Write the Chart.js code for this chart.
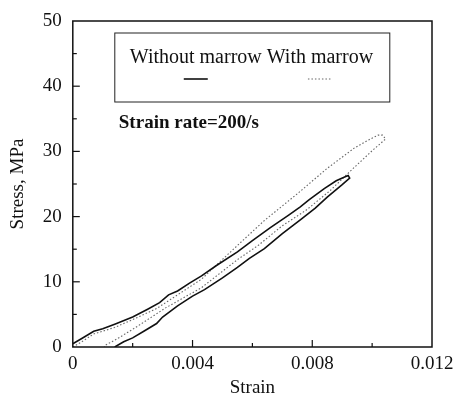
<!DOCTYPE html>
<html>
<head>
<meta charset="utf-8">
<script src="https://cdn.jsdelivr.net/npm/chart.js@4.4.0/dist/chart.umd.min.js"></script>
<style>
  html, body { margin: 0; padding: 0; background: #fff; }
  #wrap { width: 457px; height: 396px; }
</style>
</head>
<body>
<div id="wrap"><canvas id="mychart"></canvas></div>
<script>
// series labels
const seriesNames = ['Without marrow', 'With marrow'];
const note = 'Strain rate=200/s';

// without marrow loop (strain, stress in MPa)
const woStrain = [0, 0.0003, 0.0007, 0.001, 0.0014, 0.002, 0.0025, 0.0029, 0.0032, 0.0035, 0.0039, 0.0043, 0.0048, 0.0055, 0.006, 0.0066, 0.0072, 0.0076, 0.0079, 0.0084, 0.0088, 0.0091, 0.0092,
                  0.00925, 0.009, 0.0085, 0.0081, 0.0076, 0.007, 0.0064, 0.0059, 0.0055, 0.005, 0.0044, 0.004, 0.0035, 0.003, 0.0028, 0.0024, 0.002, 0.0017, 0.0014];
const woStress = [0.5, 1.3, 2.4, 2.8, 3.5, 4.6, 5.8, 6.8, 8.0, 8.6, 9.8, 10.9, 12.5, 14.6, 16.3, 18.3, 20.2, 21.5, 22.6, 24.3, 25.5, 26.1, 26.3,
                  25.9, 24.9, 23.0, 21.3, 19.5, 17.4, 15.1, 13.6, 12.2, 10.6, 8.8, 7.8, 6.3, 4.6, 3.6, 2.5, 1.4, 0.8, 0];

// with marrow loop
const wStrain = [0, 0.0003, 0.0007, 0.0014, 0.002, 0.0028, 0.0035, 0.0043, 0.0049, 0.0056, 0.0064, 0.0075, 0.0085, 0.0094, 0.0099, 0.0102, 0.01035,
                 0.01045, 0.01, 0.0093, 0.0086, 0.0078, 0.007, 0.0062, 0.0055, 0.0043, 0.0031, 0.0021, 0.0015, 0.0011, 0.00105];
const wStress = [0, 0.8, 2.0, 3.0, 4.2, 5.9, 8.0, 10.4, 13.0, 16.0, 19.4, 23.5, 27.4, 30.5, 31.8, 32.5, 32.5,
                 31.9, 30.1, 27.1, 24.0, 21.0, 18.6, 15.6, 13.4, 9.1, 6.0, 3.0, 1.3, 0.3, 0];

// axis tick labels
const xTickLabels = ['0', '0.004', '0.008', '0.012'];
const yTickLabels = ['0', '10', '20', '30', '40', '50'];

function pts(xs, ys) {
  return xs.map(function(x, i){ return {x: x, y: ys[i]}; });
}

const serif = "'Liberation Serif', 'DejaVu Serif', serif";

// box, inward ticks, legend and note
const framePlugin = {
  id: 'frame',
  afterDatasetsDraw: function(chart) {
    const ctx = chart.ctx;
    const a = chart.chartArea;
    const xs = chart.scales.x, ys = chart.scales.y;
    ctx.save();
    ctx.strokeStyle = '#111';
    ctx.lineWidth = 1.5;
    ctx.strokeRect(a.left, a.top, a.right - a.left, a.bottom - a.top);

    ctx.lineWidth = 1.2;
    ys.ticks.forEach(function(t){
      const p = ys.getPixelForValue(t.value);
      const len = (Math.round(t.value) % 10 === 0) ? 7 : 4;
      if (t.value <= 0 || t.value >= 50) return;
      ctx.beginPath(); ctx.moveTo(a.left, p); ctx.lineTo(a.left + len, p); ctx.stroke();
    });
    xs.ticks.forEach(function(t){
      const p = xs.getPixelForValue(t.value);
      const r = t.value / 0.004;
      const len = Math.abs(r - Math.round(r)) < 1e-6 ? 7 : 4;
      if (t.value <= 0 || t.value >= 0.012 - 1e-9) return;
      ctx.beginPath(); ctx.moveTo(p, a.bottom); ctx.lineTo(p, a.bottom - len); ctx.stroke();
    });

    // legend
    const lx = a.left + 42, ly = a.top + 12, lw = 275, lh = 69;
    ctx.lineWidth = 1;
    ctx.strokeStyle = '#222';
    ctx.strokeRect(lx, ly, lw, lh);
    ctx.fillStyle = '#111';
    ctx.font = '20px ' + serif;
    ctx.textBaseline = 'middle';
    ctx.textAlign = 'left';
    const t1 = seriesNames[0] + ' ';
    const tx = lx + 15;
    ctx.fillText(t1 + seriesNames[1], tx, ly + 25);
    const w1 = ctx.measureText(seriesNames[0]).width;
    const wsp = ctx.measureText(t1).width;
    const w2 = ctx.measureText(seriesNames[1]).width;
    const ds = chart.data.datasets;
    [[tx + w1 / 2, ds[0]], [tx + wsp + w2 / 2, ds[1]]].forEach(function(s){
      ctx.beginPath();
      ctx.strokeStyle = s[1].borderColor;
      ctx.lineWidth = s[1].borderWidth;
      ctx.setLineDash(s[1].borderDash || []);
      ctx.moveTo(s[0] - 12, ly + 46); ctx.lineTo(s[0] + 12, ly + 46);
      ctx.stroke();
    });
    ctx.setLineDash([]);

    ctx.font = 'bold 19px ' + serif;
    ctx.fillStyle = '#111';
    ctx.fillText(note, a.left + 46, a.top + 102);
    ctx.restore();
  }
};

new Chart(document.getElementById('mychart'), {
  type: 'scatter',
  data: {
    datasets: [{
      label: seriesNames[0],
      data: pts(woStrain, woStress),
      showLine: true,
      borderColor: '#111',
      borderWidth: 1.6,
      pointRadius: 0,
      tension: 0
    }, {
      label: seriesNames[1],
      data: pts(wStrain, wStress),
      showLine: true,
      borderColor: '#666',
      borderWidth: 1.1,
      borderDash: [1.5, 2],
      pointRadius: 0,
      tension: 0
    }]
  },
  options: {
    responsive: true,
    maintainAspectRatio: false,
    animation: false,
    layout: { padding: { left: 7, right: 25, top: 21, bottom: -2 } },
    plugins: { legend: { display: false }, tooltip: { enabled: false } },
    scales: {
      x: {
        type: 'linear', min: 0, max: 0.012,
        grid: { display: false, drawTicks: false },
        border: { display: false },
        afterFit: function(s) { s.paddingRight = 0; s.paddingLeft = 0; },
        ticks: {
          stepSize: 0.002, padding: 8, color: '#111', maxRotation: 0, autoSkip: false,
          font: { family: serif, size: 19, lineHeight: 1 },
          callback: function(v) {
            const r = v / 0.004;
            if (Math.abs(r - Math.round(r)) > 1e-6) return '';
            return xTickLabels[Math.round(r)];
          }
        },
        title: { display: true, text: 'Strain', color: '#111', font: { family: serif, size: 19, lineHeight: 1 }, padding: { top: -3, bottom: 0 } }
      },
      y: {
        type: 'linear', min: 0, max: 50,
        grid: { display: false, drawTicks: false },
        border: { display: false },
        afterFit: function(s) { s.paddingTop = 0; s.paddingBottom = 0; },
        ticks: {
          stepSize: 5, padding: 11, color: '#111', autoSkip: false,
          font: { family: serif, size: 19 },
          callback: function(v) {
            if (Math.round(v) % 10 !== 0) return '';
            return yTickLabels[Math.round(v) / 10];
          }
        },
        title: { display: true, text: 'Stress, MPa', color: '#111', font: { family: serif, size: 19 }, padding: { top: 0, bottom: 2 } }
      }
    }
  },
  plugins: [framePlugin]
});
</script>
</body>
</html>
